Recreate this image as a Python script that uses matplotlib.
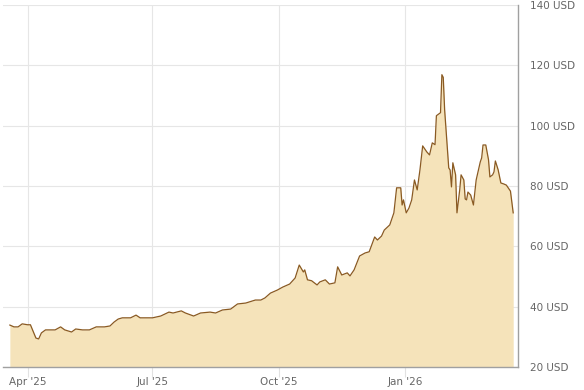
"""
One-year price chart (USD), area fill with brown outline, axis labels on the right.
"""

import matplotlib
matplotlib.use("Agg")
import matplotlib.pyplot as plt
import pandas as pd

# ---- data ----
dates = [
    "2025-03-19", "2025-03-22", "2025-03-25", "2025-03-28", "2025-04-01", "2025-04-03",
    "2025-04-07", "2025-04-09", "2025-04-11", "2025-04-14", "2025-04-21", "2025-04-25",
    "2025-04-28", "2025-05-03", "2025-05-06", "2025-05-11", "2025-05-16", "2025-05-21",
    "2025-05-27", "2025-05-31", "2025-06-03", "2025-06-06", "2025-06-09", "2025-06-15",
    "2025-06-19", "2025-06-22", "2025-06-27", "2025-07-01", "2025-07-07", "2025-07-13",
    "2025-07-16", "2025-07-22", "2025-07-25", "2025-07-31", "2025-08-05", "2025-08-12",
    "2025-08-16", "2025-08-21", "2025-08-27", "2025-09-01", "2025-09-07", "2025-09-14",
    "2025-09-18", "2025-09-21", "2025-09-25", "2025-09-30", "2025-10-04", "2025-10-09",
    "2025-10-13", "2025-10-16", "2025-10-19", "2025-10-20", "2025-10-22", "2025-10-25",
    "2025-10-29", "2025-10-31", "2025-11-04", "2025-11-07", "2025-11-11", "2025-11-13",
    "2025-11-16", "2025-11-20", "2025-11-22", "2025-11-25", "2025-11-29", "2025-12-03",
    "2025-12-06", "2025-12-10", "2025-12-12", "2025-12-15", "2025-12-17", "2025-12-21",
    "2025-12-24", "2025-12-26", "2025-12-29", "2025-12-30", "2025-12-31", "2026-01-02",
    "2026-01-04", "2026-01-06", "2026-01-08", "2026-01-10", "2026-01-12", "2026-01-14",
    "2026-01-17", "2026-01-19", "2026-01-21", "2026-01-23", "2026-01-24", "2026-01-27",
    "2026-01-28", "2026-01-29", "2026-01-30", "2026-02-02", "2026-02-03", "2026-02-04",
    "2026-02-05", "2026-02-07", "2026-02-08", "2026-02-10", "2026-02-11", "2026-02-13",
    "2026-02-14", "2026-02-15", "2026-02-16", "2026-02-18", "2026-02-20", "2026-02-22",
    "2026-02-25", "2026-02-26", "2026-02-27", "2026-03-01", "2026-03-03", "2026-03-04",
    "2026-03-06", "2026-03-07", "2026-03-08", "2026-03-10", "2026-03-12", "2026-03-14",
    "2026-03-16", "2026-03-19", "2026-03-21",
]
prices = [
    33.9, 33.3, 33.3, 34.3, 34.0, 34.0,
    29.6, 29.3, 31.3, 32.3, 32.3, 33.3,
    32.3, 31.6, 32.6, 32.3, 32.3, 33.3,
    33.3, 33.6, 34.9, 35.9, 36.3, 36.3,
    37.2, 36.3, 36.3, 36.3, 36.9, 38.2,
    37.9, 38.6, 37.9, 36.9, 37.9, 38.2,
    37.9, 38.9, 39.2, 40.9, 41.2, 42.2,
    42.2, 42.9, 44.5, 45.5, 46.5, 47.5,
    49.5, 53.8, 51.5, 52.2, 48.9, 48.6,
    47.2, 48.2, 48.9, 47.5, 47.9, 53.2,
    50.5, 51.2, 50.2, 52.2, 56.8, 57.8,
    58.2, 63.1, 62.1, 63.4, 65.4, 67.1,
    71.1, 79.4, 79.4, 73.7, 75.4, 71.1,
    72.7, 75.4, 82.0, 78.7, 85.3, 93.3,
    91.3, 90.3, 94.3, 93.7, 103.3, 104.3,
    116.9, 116.0, 105.3, 86.0, 85.3, 79.7,
    87.7, 83.7, 71.1, 78.7, 83.7, 82.0,
    75.7, 75.4, 78.0, 77.0, 73.7, 82.0,
    88.0, 89.3, 93.6, 93.6, 88.7, 83.0,
    83.7, 84.7, 88.3, 85.4, 81.0, 80.7,
    80.3, 78.3, 71.1,
]
tick_dates = ["2025-04-01", "2025-07-01", "2025-10-01", "2026-01-01"]
tick_labels = ["Apr '25", "Jul '25", "Oct '25", "Jan '26"]
y_ticks = [20, 40, 60, 80, 100, 120, 140]

x = pd.to_datetime(dates)

fig = plt.figure(figsize=(5.84, 3.90), dpi=100)
ax = fig.add_axes([3 / 584, 23 / 390, 515 / 584, 362 / 390])

fill_color = '#f5e3ba'
line_color = '#8a5a22'

ax.fill_between(x, prices, 20, color=fill_color, linewidth=0, zorder=2)
ax.plot(x, prices, color=line_color, linewidth=0.9, zorder=3)

ax.set_ylim(20, 140)
ax.set_xlim(pd.Timestamp("2025-03-14"), pd.Timestamp("2026-03-24 12:00"))

ax.set_yticks(y_ticks)
ax.set_yticklabels([f"{v} USD" for v in y_ticks])
ax.yaxis.tick_right()
ax.tick_params(axis='y', length=0, pad=9, labelsize=7.5, labelcolor='#666666')

ax.set_xticks(pd.to_datetime(tick_dates))
ax.set_xticklabels(tick_labels)
ax.tick_params(axis='x', length=7, width=0.8, color='#e2e2e2', pad=0,
               labelsize=7.5, labelcolor='#666666')

ax.grid(True, color='#e6e6e6', linewidth=0.8, zorder=0)
ax.set_axisbelow(True)

for side in ['left', 'top']:
    ax.spines[side].set_visible(False)
ax.spines['bottom'].set_color('#a0a0a0')
ax.spines['bottom'].set_linewidth(1.0)
ax.spines['right'].set_color('#a0a0a0')
ax.spines['right'].set_linewidth(1.0)

fig.savefig("out.png", dpi=100, facecolor='white')
